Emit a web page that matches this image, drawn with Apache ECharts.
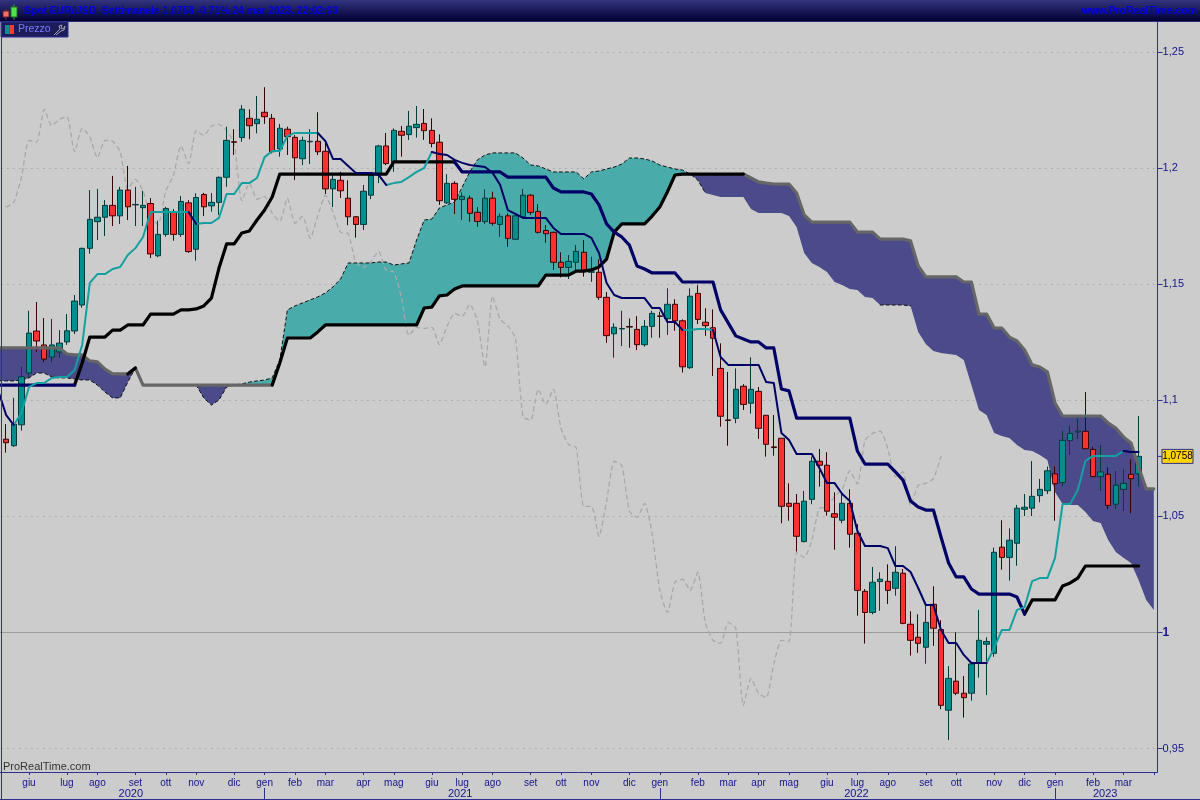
<!DOCTYPE html>
<html><head><meta charset="utf-8">
<style>html,body{margin:0;padding:0;background:#cccccc}#c{width:1200px;height:800px}</style>
<script src="https://cdn.jsdelivr.net/npm/echarts@6/dist/echarts.min.js"></script>
</head><body><div id="c"></div>
<script>
const opens=[1.0832,1.0804,1.0894,1.1117,1.1298,1.1238,1.1186,1.1208,1.1251,1.1298,1.1410,1.1654,1.1769,1.1788,1.1839,1.1794,1.1905,1.1841,1.1829,1.1847,1.1622,1.1714,1.1809,1.1714,1.1850,1.1650,1.1886,1.1837,1.1852,1.1960,1.2113,1.2131,1.2214,1.2191,1.2240,1.2214,1.2082,1.2167,1.2132,1.2040,1.2113,1.2115,1.2072,1.1910,1.1947,1.1870,1.1790,1.1757,1.1883,1.1974,1.2095,1.2024,1.2158,1.2144,1.2174,1.2192,1.2162,1.2111,1.1850,1.1934,1.1864,1.1870,1.1809,1.1769,1.1870,1.1757,1.1794,1.1693,1.1790,1.1883,1.1813,1.1731,1.1723,1.1594,1.1572,1.1594,1.1637,1.1551,1.1551,1.1443,1.1286,1.1307,1.1317,1.1305,1.1239,1.1318,1.1363,1.1351,1.1413,1.1342,1.1140,1.1460,1.1336,1.1312,1.1137,1.0915,1.0922,1.1060,1.0987,1.1038,1.0935,1.0799,1.0836,1.0556,1.0556,1.0391,1.0573,1.0737,1.0720,1.0511,1.0483,1.0556,1.0427,1.0177,1.0086,1.0219,1.0220,1.0190,1.0255,1.0035,.9979,.9936,1.0121,1.0012,.9665,.9790,.9738,.9738,.9870,.9949,.9910,1.0367,1.0323,1.0384,1.0530,1.0535,1.0589,1.0610,1.0683,1.0645,1.0826,1.0863,1.0866,1.0788,1.0671,1.0681,1.0552,1.0616,1.0681,1.0683];
const closes=[1.0817,1.0897,1.1101,1.1289,1.1255,1.1177,1.1238,1.1246,1.1299,1.1427,1.1654,1.1779,1.1788,1.1839,1.1794,1.1905,1.1833,1.1843,1.1839,1.1630,1.1714,1.1826,1.1714,1.1856,1.1640,1.1873,1.1833,1.1852,1.1960,1.2119,1.2111,1.2253,1.2182,1.2210,1.2221,1.2070,1.2171,1.2135,1.2044,1.2119,1.2115,1.2070,1.1910,1.1951,1.1902,1.1790,1.1757,1.1900,1.1969,1.2095,1.2019,1.2162,1.2141,1.2180,1.2188,1.2161,1.2106,1.1859,1.1934,1.1865,1.1878,1.1805,1.1770,1.1870,1.1762,1.1792,1.1697,1.1794,1.1883,1.1809,1.1723,1.1717,1.1594,1.1572,1.1598,1.1641,1.1559,1.1553,1.1443,1.1278,1.1314,1.1309,1.1315,1.1239,1.1318,1.1374,1.1361,1.1413,1.1342,1.1144,1.1448,1.1348,1.1321,1.1267,1.0931,1.0913,1.1047,1.0982,1.1047,1.0879,1.0810,1.0796,1.0543,1.0543,1.0414,1.0565,1.0737,1.0720,1.0522,1.0496,1.0556,1.0423,1.0181,1.0086,1.0216,1.0229,1.0181,1.0259,1.0039,.9966,.9953,1.0043,1.0018,.9686,.9802,.9738,.9719,.9864,.9966,.9961,1.0345,1.0323,1.0397,1.0535,1.0539,1.0586,1.0616,1.0696,1.0640,1.0827,1.0857,1.0867,1.0791,1.0671,1.0691,1.0547,1.0634,1.0642,1.0662,1.0758];
const lows=[1.0774,1.0799,1.0869,1.1100,1.1208,1.1164,1.1164,1.1182,1.1238,1.1285,1.1398,1.1631,1.1690,1.1707,1.1750,1.1759,1.1776,1.1750,1.1750,1.1612,1.1616,1.1704,1.1687,1.1703,1.1635,1.1601,1.1793,1.1812,1.1798,1.1919,1.2056,1.2113,1.2124,1.2149,1.2190,1.2063,1.2049,1.2056,1.1948,1.2013,1.2017,1.2056,1.1888,1.1832,1.1871,1.1754,1.1700,1.1733,1.1866,1.1935,1.2013,1.1984,1.2049,1.2121,1.2131,1.2121,1.2089,1.1841,1.1845,1.1802,1.1776,1.1769,1.1747,1.1759,1.1752,1.1704,1.1661,1.1691,1.1788,1.1798,1.1718,1.1678,1.1561,1.1529,1.1522,1.1561,1.1532,1.1510,1.1432,1.1247,1.1183,1.1233,1.1226,1.1216,1.1230,1.1269,1.1269,1.1281,1.1299,1.1119,1.1135,1.1328,1.1277,1.1104,1.0886,1.0804,1.0901,1.0958,1.0942,1.0833,1.0757,1.0761,1.0470,1.0481,1.0348,1.0388,1.0552,1.0628,1.0503,1.0356,1.0470,1.0365,1.0072,.9952,1.0078,1.0093,1.0122,1.0158,1.0035,.9900,.9912,.9865,.9942,.9669,.9537,.9730,.9633,.9706,.9805,.9730,.9895,1.0270,1.0223,1.0287,1.0501,1.0501,1.0560,1.0596,1.0481,1.0630,1.0764,1.0833,1.0790,1.0668,1.0609,1.0531,1.0531,1.0523,1.0514,1.0628];
const highs=[1.0897,1.1010,1.1144,1.1385,1.1423,1.1354,1.1350,1.1302,1.1371,1.1453,1.1657,1.1905,1.1910,1.1862,1.1966,1.1919,1.2009,1.1919,1.1902,1.1871,1.1773,1.1833,1.1823,1.1879,1.1862,1.1891,1.1893,1.1892,1.1963,1.2178,1.2167,1.2271,1.2253,1.2310,1.2348,1.2233,1.2190,1.2178,1.2142,1.2135,1.2167,1.2240,1.2121,1.1970,1.1984,1.1947,1.1793,1.1927,1.1980,1.2100,1.2151,1.2171,1.2181,1.2246,1.2267,1.2254,1.2214,1.2145,1.1974,1.1943,1.1895,1.1882,1.1831,1.1908,1.1898,1.1805,1.1805,1.1798,1.1910,1.1887,1.1844,1.1754,1.1726,1.1637,1.1625,1.1668,1.1690,1.1618,1.1607,1.1466,1.1331,1.1385,1.1352,1.1362,1.1345,1.1385,1.1381,1.1482,1.1435,1.1348,1.1482,1.1495,1.1396,1.1391,1.1245,1.1122,1.1137,1.1069,1.1185,1.1057,1.0936,1.0936,1.0837,1.0642,1.0596,1.0609,1.0757,1.0790,1.0776,1.0603,1.0606,1.0616,1.0466,1.0187,1.0282,1.0259,1.0293,1.0371,1.0273,1.0091,1.0078,1.0118,1.0199,1.0053,.9855,1.0000,.9812,.9868,1.0097,.9979,1.0365,1.0483,1.0448,1.0549,1.0596,1.0738,1.0661,1.0714,1.0714,1.0868,1.0890,1.0922,1.1035,1.0799,1.0807,1.0711,1.0695,1.0703,1.0746,1.0932];
// Lines below begin one week before the first candle
const tenkan=[1.1036,1.0936,1.0893,1.0945,1.1057,1.1074,1.1074,1.1096,1.1100,1.1100,1.1130,1.1238,1.1505,1.1543,1.1543,1.1565,1.1574,1.1625,1.1655,1.1703,1.1810,1.1810,1.1810,1.1810,1.1810,1.1810,1.1759,1.1763,1.1763,1.1785,1.1888,1.1888,1.1935,1.1935,1.1957,1.2047,1.2073,1.2073,1.2138,1.2151,1.2151,1.2151,1.2151,1.2116,1.2039,1.2039,1.2009,1.1979,1.1979,1.1979,1.1970,1.1927,1.1935,1.1940,1.1961,1.1983,1.2000,1.2069,1.2060,1.2056,1.2035,1.2022,1.2013,1.2009,1.2004,1.1979,1.1927,1.1819,1.1802,1.1785,1.1785,1.1785,1.1785,1.1742,1.1716,1.1716,1.1716,1.1716,1.1699,1.1634,1.1505,1.1453,1.1440,1.1440,1.1440,1.1440,1.1397,1.1397,1.1337,1.1337,1.1302,1.1302,1.1307,1.1307,1.1302,1.1186,1.1152,1.1152,1.1152,1.1152,1.1152,1.1078,1.1074,1.0859,1.0829,1.0768,1.0768,1.0768,1.0708,1.0643,1.0643,1.0596,1.0566,1.0437,1.0372,1.0372,1.0372,1.0363,1.0286,1.0286,1.0260,1.0191,1.0118,1.0118,1.0010,.9954,.9954,.9903,.9868,.9868,.9868,.9933,1.0010,1.0010,1.0097,1.0109,1.0221,1.0234,1.0234,1.0321,1.0553,1.0553,1.0613,1.0738,1.0760,1.0760,1.0760,1.0760,1.0781,1.0777,1.0777];
const kijun=[1.1065,1.1065,1.1065,1.1065,1.1065,1.1065,1.1065,1.1065,1.1065,1.1065,1.1065,1.1160,1.1272,1.1272,1.1272,1.1302,1.1302,1.1324,1.1324,1.1324,1.1371,1.1371,1.1371,1.1371,1.1389,1.1389,1.1393,1.1406,1.1440,1.1569,1.1673,1.1673,1.1720,1.1729,1.1776,1.1819,1.1875,1.1974,1.1974,1.1974,1.1974,1.1974,1.1974,1.1974,1.1974,1.1974,1.1974,1.1974,1.1974,1.1974,1.1974,1.1974,1.2026,1.2026,1.2026,1.2026,1.2026,1.2026,1.2026,1.2026,1.2026,1.1983,1.1983,1.1983,1.1983,1.1983,1.1983,1.1961,1.1961,1.1961,1.1961,1.1961,1.1961,1.1914,1.1897,1.1897,1.1897,1.1897,1.1888,1.1841,1.1759,1.1724,1.1703,1.1668,1.1578,1.1565,1.1548,1.1548,1.1548,1.1548,1.1509,1.1509,1.1509,1.1509,1.1509,1.1389,1.1333,1.1277,1.1264,1.1251,1.1251,1.1225,1.1225,1.1048,1.1040,1.0923,1.0923,1.0923,1.0923,1.0923,1.0923,1.0923,1.0923,1.0781,1.0725,1.0725,1.0725,1.0725,1.0691,1.0656,1.0566,1.0540,1.0527,1.0527,1.0411,1.0299,1.0239,1.0239,1.0187,1.0165,1.0165,1.0165,1.0165,1.0165,1.0152,1.0079,1.0140,1.0140,1.0140,1.0140,1.0200,1.0213,1.0234,1.0286,1.0286,1.0286,1.0286,1.0286,1.0286,1.0286,1.0286];
const spanA=[1.1083,1.1083,1.1083,1.1087,1.1096,1.1117,1.1117,1.1100,1.1096,1.1096,1.1091,1.1087,1.1087,1.1065,1.1035,1.1010,1.1010,1.1078,1.1139,1.1065,1.1065,1.1065,1.1065,1.1065,1.1065,1.1065,1.1065,1.1010,1.0979,1.1001,1.1057,1.1065,1.1070,1.1078,1.1083,1.1087,1.1096,1.1173,1.1389,1.1406,1.1419,1.1432,1.1445,1.1462,1.1488,1.1522,1.1591,1.1591,1.1591,1.1591,1.1595,1.1595,1.1582,1.1587,1.1591,1.1690,1.1776,1.1780,1.1828,1.1841,1.1854,1.1918,1.1983,1.2035,1.2056,1.2065,1.2065,1.2065,1.2065,1.2043,1.2013,1.2009,1.1996,1.1983,1.1983,1.1983,1.1983,1.1953,1.1983,1.1987,1.1996,1.2004,1.2017,1.2043,1.2043,1.2039,1.2030,1.2013,1.2004,1.1996,1.1991,1.1974,1.1948,1.1892,1.1884,1.1875,1.1875,1.1875,1.1875,1.1823,1.1806,1.1806,1.1806,1.1806,1.1793,1.1746,1.1634,1.1591,1.1574,1.1552,1.1509,1.1496,1.1479,1.1475,1.1445,1.1440,1.1410,1.1410,1.1410,1.1410,1.1406,1.1294,1.1242,1.1212,1.1203,1.1199,1.1195,1.1173,1.1065,1.0958,1.0936,1.0859,1.0846,1.0837,1.0807,1.0786,1.0781,1.0764,1.0743,1.0605,1.0553,1.0549,1.0549,1.0518,1.0480,1.0471,1.0398,1.0346,1.0321,1.0299,1.0226,1.0140,1.0097];
const spanB=[1.1225,1.1225,1.1225,1.1225,1.1225,1.1225,1.1225,1.1225,1.1225,1.1199,1.1195,1.1195,1.1169,1.1165,1.1134,1.1113,1.1113,1.1113,1.1139,1.1065,1.1065,1.1065,1.1065,1.1065,1.1065,1.1065,1.1065,1.1065,1.1065,1.1065,1.1065,1.1065,1.1065,1.1065,1.1065,1.1065,1.1065,1.1160,1.1268,1.1268,1.1268,1.1268,1.1294,1.1324,1.1324,1.1324,1.1324,1.1324,1.1324,1.1324,1.1324,1.1324,1.1324,1.1324,1.1324,1.1324,1.1397,1.1401,1.1449,1.1453,1.1479,1.1492,1.1492,1.1492,1.1492,1.1492,1.1492,1.1492,1.1492,1.1492,1.1492,1.1492,1.1539,1.1539,1.1539,1.1539,1.1556,1.1556,1.1561,1.1574,1.1608,1.1724,1.1759,1.1759,1.1759,1.1759,1.1793,1.1832,1.1897,1.1970,1.1974,1.1974,1.1974,1.1974,1.1974,1.1974,1.1974,1.1974,1.1974,1.1957,1.1940,1.1935,1.1931,1.1931,1.1931,1.1892,1.1798,1.1767,1.1767,1.1767,1.1767,1.1767,1.1767,1.1724,1.1724,1.1724,1.1694,1.1694,1.1694,1.1694,1.1686,1.1578,1.1531,1.1531,1.1531,1.1531,1.1531,1.1509,1.1509,1.1371,1.1371,1.1311,1.1311,1.1272,1.1255,1.1216,1.1152,1.1143,1.1122,1.0988,1.0932,1.0932,1.0932,1.0932,1.0932,1.0932,1.0902,1.0880,1.0842,1.0816,1.0712,1.0618,1.0618];
const laggingSpan=[1.1833,1.1852,1.1960,1.2119,1.2111,1.2253,1.2182,1.2210,1.2221,1.2070,1.2171,1.2135,1.2044,1.2119,1.2115,1.2070,1.1910,1.1951,1.1902,1.1790,1.1757,1.1900,1.1969,1.2095,1.2019,1.2162,1.2141,1.2180,1.2188,1.2161,1.2106,1.1859,1.1934,1.1865,1.1878,1.1805,1.1770,1.1870,1.1762,1.1792,1.1697,1.1794,1.1883,1.1809,1.1723,1.1717,1.1594,1.1572,1.1598,1.1641,1.1559,1.1553,1.1443,1.1278,1.1314,1.1309,1.1315,1.1239,1.1318,1.1374,1.1361,1.1413,1.1342,1.1144,1.1448,1.1348,1.1321,1.1267,1.0931,1.0913,1.1047,1.0982,1.1047,1.0879,1.0810,1.0796,1.0543,1.0543,1.0414,1.0565,1.0737,1.0720,1.0522,1.0496,1.0556,1.0423,1.0181,1.0086,1.0216,1.0229,1.0181,1.0259,1.0039,.9966,.9953,1.0043,1.0018,.9686,.9802,.9738,.9719,.9864,.9966,.9961,1.0345,1.0323,1.0397,1.0535,1.0539,1.0586,1.0616,1.0696,1.0640,1.0827,1.0857,1.0867,1.0791,1.0671,1.0691,1.0547,1.0634,1.0642,1.0662,1.0758];
const yTicks=[0.95,1,1.05,1.1,1.15,1.2,1.25];
const monthNames=['giu','lug','ago','set','ott','nov','dic','gen','feb','mar','apr','mag','giu','lug','ago','set','ott','nov','dic','gen','feb','mar','apr','mag','giu','lug','ago','set','ott','nov','dic','gen','feb','mar',''];
const monthWeeks=[3,8,12,17,21,25,30,34,38,42,47,51,56,60,64,69,73,77,82,86,91,95,99,103,108,112,116,121,125,130,134,138,143,147,151];
const yearNames=['2020','2021','2022','2023'];
const yearWeeks=[16,60,112,145];
const yearBreakWeeks=[34,86,138];
const titleText='Spot EUR/USD  Settimanale 1,0758 -0,71% 24 mar 2023, 22:02:03';
const siteText='www.ProRealTime.com';
const lastPrice=1.0758;

const NAVY='#000066',TEAL='#14a0a0',GREY='#666666',BLACK='#000000',FRAME='#2e3192',TICKTXT='#14148c';
const FILL_UP='#4aabab',FILL_DOWN='#4b4a8b';
const font='"Liberation Sans",sans-serif';
const N=153;
const categories=Array.from({length:N},(_,k)=>String(k-1));
const monthAt=new Map(monthWeeks.map((w,j)=>[w+1,monthNames[j]]));
const yearAt=new Map(yearWeeks.map((w,j)=>[w+1,yearNames[j]]));
const breakAt=new Set(yearBreakWeeks.map(w=>w+1));
// keep the values of a line only inside the given week ranges
function only(values,ranges){return values.map((v,k)=>ranges.some(r=>k-1>=r[0]&&k-1<=r[1])?v:null);}
const candles=[['-','-','-','-']].concat(opens.map((o,i)=>[o,closes[i],lows[i],highs[i]]));
const lagging=[null].concat(laggingSpan);

function cloud(params,api){
  const pts=spanA.map((a,k)=>{const A=api.coord([k,a]),B=api.coord([k,spanB[k]]);return{x:A[0],a:A[1],b:B[1],s:Math.sign(a-spanB[k])};});
  const children=[];let up=[],lo=[],cs=0;
  const flush=()=>{if(up.length>1&&cs!==0)children.push({type:'polygon',shape:{points:up.concat(lo.slice().reverse())},style:{fill:cs>0?FILL_UP:FILL_DOWN}});up=[];lo=[];cs=0;};
  pts.forEach((p,k)=>{
    const prev=pts[k-1];
    if(cs!==0&&p.s!==cs){
      if(p.s===0){up.push([p.x,p.a]);lo.push([p.x,p.b]);flush();}
      else{const d0=prev.a-prev.b,d1=p.a-p.b,t=d0/(d0-d1),x=prev.x+(p.x-prev.x)*t,y=prev.a+(p.a-prev.a)*t;
        up.push([x,y]);lo.push([x,y]);flush();cs=p.s;up=[[x,y]];lo=[[x,y]];}
    }else if(cs===0&&p.s!==0){cs=p.s;if(prev){up=[[prev.x,prev.a]];lo=[[prev.x,prev.b]];}}
    if(p.s!==0){up.push([p.x,p.a]);lo.push([p.x,p.b]);}
  });
  flush();
  return{type:'group',children};
}
function line(name,data,color,width,z,dash,smooth){return{name,type:'line',data,symbol:'none',showSymbol:false,silent:true,z,animation:false,connectNulls:false,smooth:smooth||false,
  lineStyle:{color,width,type:dash||'solid',cap:'round',join:'round'}};}

const chart=echarts.init(document.getElementById('c'),null,{renderer:'canvas',width:1200,height:800});
chart.setOption({
  animation:false,backgroundColor:'#cccccc',
  title:[
    {z:100,text:titleText,left:24,top:6,padding:0,textStyle:{fontFamily:font,fontSize:10.3,fontWeight:'bold',color:'#0000e0'}},
    {z:100,text:siteText,right:3,top:6,padding:0,textStyle:{fontFamily:font,fontSize:10.5,fontWeight:'bold',color:'#0000e0'}}
  ],
  grid:{left:-5.2,top:22,width:7.6*N,height:750,containLabel:false,outerBoundsMode:'none'},
  xAxis:[
    {type:'category',data:categories,boundaryGap:true,position:'bottom',
      axisLine:{show:true,lineStyle:{color:FRAME,width:1}},
      axisTick:{show:true,alignWithLabel:true,length:3,interval:k=>monthAt.has(k),lineStyle:{color:FRAME}},
      axisLabel:{show:true,margin:6,interval:k=>monthAt.has(k),formatter:(v,k)=>monthAt.get(k)||'',color:TICKTXT,fontFamily:font,fontSize:10},
      splitLine:{show:false}},
    {type:'category',data:categories,boundaryGap:true,position:'bottom',offset:16,
      axisLine:{show:false},
      axisTick:{show:true,alignWithLabel:true,length:12,interval:k=>breakAt.has(k),lineStyle:{color:FRAME}},
      axisLabel:{show:true,margin:0,interval:k=>yearAt.has(k),formatter:(v,k)=>{const y=yearAt.get(k);return y?'{y'+y+'|'+y+'}':'';},color:TICKTXT,fontFamily:font,fontSize:11,
        rich:{y2020:{padding:[0,0,0,6]},y2021:{padding:[0,4,0,0]},y2022:{padding:[0,2,0,0]},y2023:{padding:[0,6,0,0]}}},
      splitLine:{show:false}}
  ],
  yAxis:{type:'value',position:'right',min:0.93988,max:1.26288,scale:true,
    axisLine:{show:true,lineStyle:{color:FRAME,width:1}},
    axisTick:{show:true,length:5,customValues:yTicks,lineStyle:{color:FRAME}},
    axisLabel:{show:true,margin:5,customValues:yTicks,color:TICKTXT,fontFamily:font,fontSize:11,
      formatter:v=>{const s=String(+v.toFixed(2)).replace('.',',');return v===1?'{b|'+s+'}':s;},
      rich:{b:{fontWeight:'bold',fontFamily:font,fontSize:12,color:TICKTXT}}},
    splitLine:{show:true,lineStyle:{color:'#adadad',type:[2,4],width:1}}
  },
  series:[
    {type:'custom',renderItem:cloud,data:[0],clip:true,silent:true,z:1},
    line('Chikou',lagging,'#a9a9a9',1.3,2,[4,4],0.2),
    {name:'Spot EUR/USD',type:'candlestick',data:candles,barWidth:6,silent:true,z:3,clip:true,
      itemStyle:{color:'#008f8f',color0:'#ff3030',borderColor:'#003b3b',borderColor0:'#3a0000',borderWidth:1},
      markLine:{silent:true,symbol:'none',z:0,label:{show:false},lineStyle:{color:'#9c9c9c',type:'solid',width:1},data:[{yAxis:1}]}},
    line('Span A',only(spanA,[[-1,17],[25,92],[115,119]]),'#111111',1,3,[3,3]),
    line('Span B',only(spanB,[[-1,16],[17,35],[97,151]]),GREY,3.2,4),
    line('Span B up',only(spanB,[[16,17],[35,97]]),BLACK,3.2,4),
    line('Kijun',only(kijun,[[9,59],[134,149]]),BLACK,3.2,5),
    line('Kijun down',only(kijun,[[-1,9],[59,134]]),NAVY,3.2,5),
    line('Tenkan',only(tenkan,[[1,24],[25,41],[50,56],[89,93],[129,147]]),TEAL,2,6),
    line('Tenkan down',only(tenkan,[[-1,1],[24,25],[41,50],[56,89],[93,129],[147,149]]),NAVY,2,6)
  ]
});
const py=chart.convertToPixel({yAxisIndex:0},lastPrice);
chart.setOption({graphic:[
  {type:'rect',silent:true,z:50,shape:{x:0,y:0,width:1200,height:21},style:{fill:new echarts.graphic.LinearGradient(0,0,0,1,[{offset:0,color:'#33337f'},{offset:1,color:'#000033'}])}},
  {type:'rect',silent:true,z:50,shape:{x:0,y:21,width:1200,height:1},style:{fill:'#2a2a7a'}},
  {type:'rect',silent:true,z:51,shape:{x:3,y:11,width:6,height:6},style:{fill:'#f07070',stroke:'#6a2020',lineWidth:1}},
  {type:'line',silent:true,z:50.5,shape:{x1:6,y1:9,x2:6,y2:20},style:{stroke:'#803030',lineWidth:1}},
  {type:'rect',silent:true,z:51,shape:{x:11,y:7,width:6,height:10},style:{fill:'#50e050',stroke:'#207020',lineWidth:1}},
  {type:'line',silent:true,z:50.5,shape:{x1:14,y1:4,x2:14,y2:20},style:{stroke:'#30a030',lineWidth:1}},
  {type:'rect',silent:true,z:50,shape:{x:1,y:22,width:67,height:15},style:{fill:'#1d1d5c',stroke:'#2e3192',lineWidth:1}},
  {type:'rect',silent:true,z:51,shape:{x:5,y:25,width:4.5,height:9},style:{fill:'#009090'}},
  {type:'rect',silent:true,z:51,shape:{x:9.5,y:25,width:4.5,height:9},style:{fill:'#ff3838'}},
  {type:'text',silent:true,z:51,style:{x:18,y:24,text:'Prezzo',fill:'#7a7aff',font:'10.5px '+font}},
  {type:'polyline',silent:true,z:51,shape:{points:[[54,35],[60,29],[59,26],[62,25],[61,28],[63,29],[65,26],[64,30],[61,31],[56,35]]},style:{fill:'none',stroke:'#a0a0b0',lineWidth:1}},
  {type:'rect',silent:true,z:50,shape:{x:1,y:22,width:1,height:778},style:{fill:FRAME}},
  {type:'rect',silent:true,z:50,shape:{x:0,y:799,width:1200,height:1},style:{fill:FRAME}},
  {type:'text',silent:true,z:50,style:{x:3,y:761,text:'ProRealTime.com',fill:'#333333',font:'11px '+font}},
  {type:'line',silent:true,z:50,shape:{x1:1157,y1:py,x2:1162,y2:py},style:{stroke:FRAME,lineWidth:1}},
  {type:'rect',silent:true,z:50,shape:{x:1162,y:py-7,width:31,height:14},style:{fill:'#ffd400',stroke:FRAME,lineWidth:1}},
  {type:'text',silent:true,z:51,style:{x:1177.5,y:py,text:'1,0758',align:'center',verticalAlign:'middle',fill:'#000000',font:'10px '+font}}
]});
</script></body></html>
